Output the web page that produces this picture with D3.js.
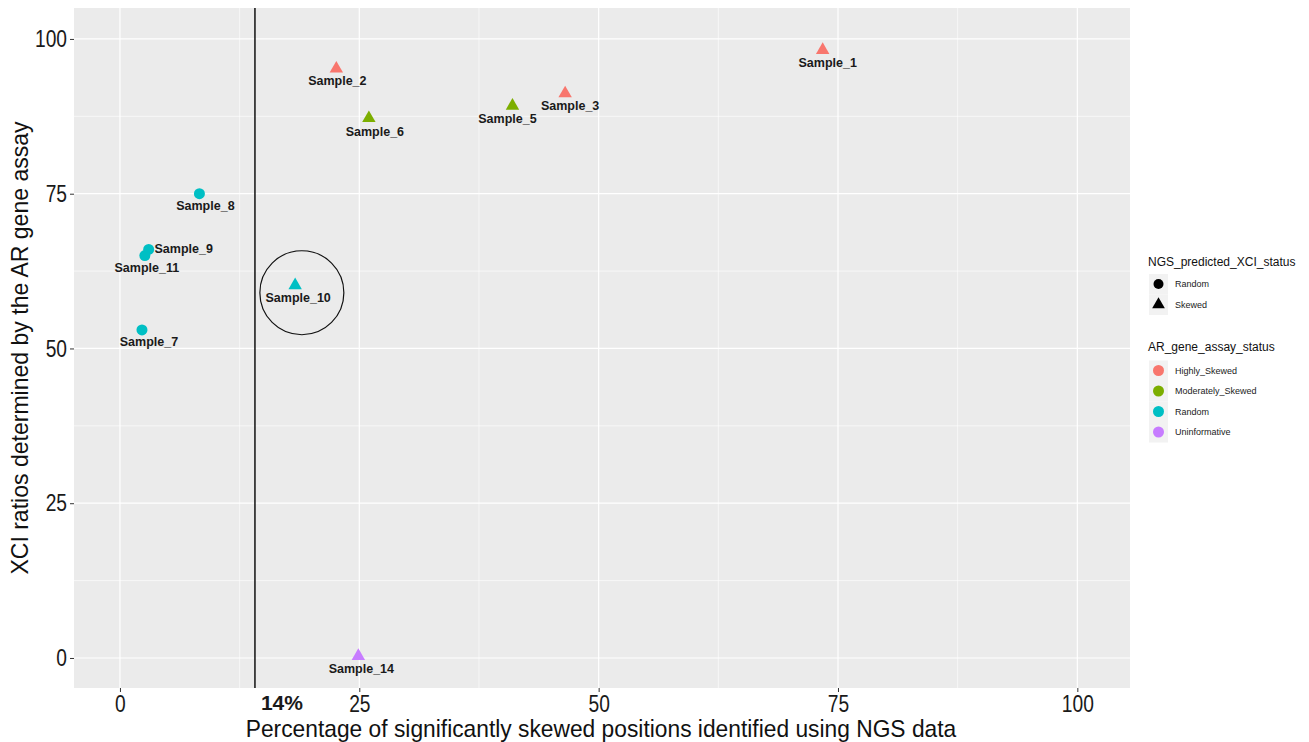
<!DOCTYPE html>
<html><head><meta charset="utf-8">
<script src="https://cdn.jsdelivr.net/npm/d3@7"></script>
<style>body{margin:0;background:#fff}svg{display:block}text{font-family:"Liberation Sans",Arial,sans-serif}</style>
</head><body><svg id="c" width="1309" height="742"></svg>
<script>
const samples = ["Sample_1","Sample_2","Sample_3","Sample_5","Sample_6","Sample_8","Sample_9","Sample_11","Sample_7","Sample_10","Sample_14"];
const ngsPct  = [73.4, 22.6, 46.5, 41.0, 26.0, 8.3, 3.0, 2.6, 2.3, 18.3, 24.9];
const arRatio = [98.2, 95.2, 91.2, 89.2, 87.2, 75.0, 66.0, 65.0, 53.0, 60.2, 0.3];
const ngsStatus = ["Skewed","Skewed","Skewed","Skewed","Skewed","Random","Random","Random","Random","Skewed","Skewed"];
const arStatus = ["Highly_Skewed","Highly_Skewed","Highly_Skewed","Moderately_Skewed","Moderately_Skewed","Random","Random","Random","Random","Random","Uninformative"];
// label nudges in pixels (dx, dy) relative to point
const labelDx = [5, 1, 5, -5, 6, 6, 35, 2, 7, 3, 3];
const labelDy = [13, 12, 12, 13, 13, 12, -1, 12, 12, 12, 13];
const xTicks = [0, 25, 50, 75, 100];
const yTicks = [0, 25, 50, 75, 100];
const thresholdX = 14.1;
const thresholdLabel = "14%";
const shapeLevels = ["Random","Skewed"];
const colorLevels = ["Highly_Skewed","Moderately_Skewed","Random","Uninformative"];
const colorValues = ["#F8766D","#7CAE00","#00BFC4","#C77CFF"];
const highlight = {x: 19.0, y: 59.0};

const svg = d3.select("#c");
const L = 74, R = 1130, T = 8, B = 688;
const x = d3.scaleLinear().domain([-4.8, 105.5]).range([L, R]);
const y = d3.scaleLinear().domain([-4.85, 105]).range([B, T]);
const color = d3.scaleOrdinal().domain(colorLevels).range(colorValues);

svg.append("rect").attr("x", L).attr("y", T).attr("width", R - L).attr("height", B - T).attr("fill", "#EBEBEB");
const g = svg.append("g");
const minorX = [12.5, 37.5, 62.5, 87.5], minorY = [12.5, 37.5, 62.5, 87.5];
minorX.forEach(v => g.append("line").attr("x1", x(v)).attr("x2", x(v)).attr("y1", T).attr("y2", B).attr("stroke", "#fff").attr("stroke-width", 0.6));
minorY.forEach(v => g.append("line").attr("y1", y(v)).attr("y2", y(v)).attr("x1", L).attr("x2", R).attr("stroke", "#fff").attr("stroke-width", 0.6));
xTicks.forEach(v => g.append("line").attr("x1", x(v)).attr("x2", x(v)).attr("y1", T).attr("y2", B).attr("stroke", "#fff").attr("stroke-width", 1.2));
yTicks.forEach(v => g.append("line").attr("y1", y(v)).attr("y2", y(v)).attr("x1", L).attr("x2", R).attr("stroke", "#fff").attr("stroke-width", 1.2));

// axes
const xa = svg.append("g").attr("transform", `translate(0,${B})`).call(d3.axisBottom(x).tickValues(xTicks).tickSize(4).tickPadding(3));
const ya = svg.append("g").attr("transform", `translate(${L},0)`).call(d3.axisLeft(y).tickValues(yTicks).tickSize(4).tickPadding(3));
[xa, ya].forEach(a => { a.select(".domain").remove(); a.selectAll("line").attr("stroke", "#333"); a.selectAll("text").attr("fill", "#1a1a1a").style("font-size", "24px").attr("transform", "scale(0.8,1)"); });
ya.selectAll("text").attr("x", -7 / 0.8);

// threshold line
svg.append("line").attr("x1", x(thresholdX)).attr("x2", x(thresholdX)).attr("y1", T).attr("y2", B).attr("stroke", "#111").attr("stroke-width", 1.5);
svg.append("text").attr("x", x(thresholdX) + 27).attr("y", 710).attr("text-anchor", "middle").style("font-size", "21px").style("font-weight", "bold").attr("fill", "#1a1a1a").text(thresholdLabel);

// highlight circle
svg.append("circle").attr("cx", x(highlight.x)).attr("cy", y(highlight.y)).attr("r", 42).attr("fill", "none").attr("stroke", "#111").attr("stroke-width", 1.2);

// points
const sym = d3.symbol();
samples.forEach((s, i) => {
  const px = x(ngsPct[i]), py = y(arRatio[i]);
  if (ngsStatus[i] === "Random") {
    svg.append("circle").attr("cx", px).attr("cy", py).attr("r", 5.5).attr("fill", color(arStatus[i]));
  } else {
    svg.append("path").attr("d", sym.type(d3.symbolTriangle).size(78)()).attr("transform", `translate(${px},${py})`).attr("fill", color(arStatus[i]));
  }
  svg.append("text").attr("x", px + labelDx[i]).attr("y", py + labelDy[i]).attr("dy", "0.35em").attr("text-anchor", "middle")
    .style("font-size", "12.5px").style("font-weight", "bold").attr("fill", "#1a1a1a").text(s);
});

// axis titles
svg.append("text").attr("transform", `translate(${(L + R) / 2 - 1},737) scale(0.95,1)`).attr("text-anchor", "middle").style("font-size", "24px").attr("fill", "#111").text("Percentage of significantly skewed positions identified using NGS data");
svg.append("text").attr("transform", `translate(28,${(T + B) / 2}) rotate(-90) scale(0.96,1)`).attr("text-anchor", "middle").style("font-size", "24px").attr("fill", "#111").text("XCI ratios determined by the AR gene assay");

// legends
const lg = svg.append("g").attr("transform", "translate(1148,0)");
lg.append("text").attr("x", 0).attr("y", 266).style("font-size", "12px").attr("fill", "#111").text("NGS_predicted_XCI_status");
shapeLevels.forEach((lv, i) => {
  const cy = 284 + i * 20.5;
  lg.append("rect").attr("x", 1).attr("y", cy - 10).attr("width", 19).attr("height", 20.5).attr("fill", "#F2F2F2");
  if (lv === "Random") lg.append("circle").attr("cx", 10.5).attr("cy", cy).attr("r", 5).attr("fill", "#000");
  else lg.append("path").attr("d", sym.type(d3.symbolTriangle).size(70)()).attr("transform", `translate(10.5,${cy})`).attr("fill", "#000");
  lg.append("text").attr("x", 27).attr("y", cy).attr("dy", "0.35em").style("font-size", "9px").attr("fill", "#222").text(lv);
});
lg.append("text").attr("x", 0).attr("y", 351).style("font-size", "12px").attr("fill", "#111").text("AR_gene_assay_status");
colorLevels.forEach((lv, i) => {
  const cy = 370.5 + i * 20.5;
  lg.append("rect").attr("x", 1).attr("y", cy - 10).attr("width", 19).attr("height", 20.5).attr("fill", "#F2F2F2");
  lg.append("circle").attr("cx", 10.5).attr("cy", cy).attr("r", 5.5).attr("fill", color(lv));
  lg.append("text").attr("x", 27).attr("y", cy).attr("dy", "0.35em").style("font-size", "9px").attr("fill", "#222").text(lv);
});
</script></body></html>
